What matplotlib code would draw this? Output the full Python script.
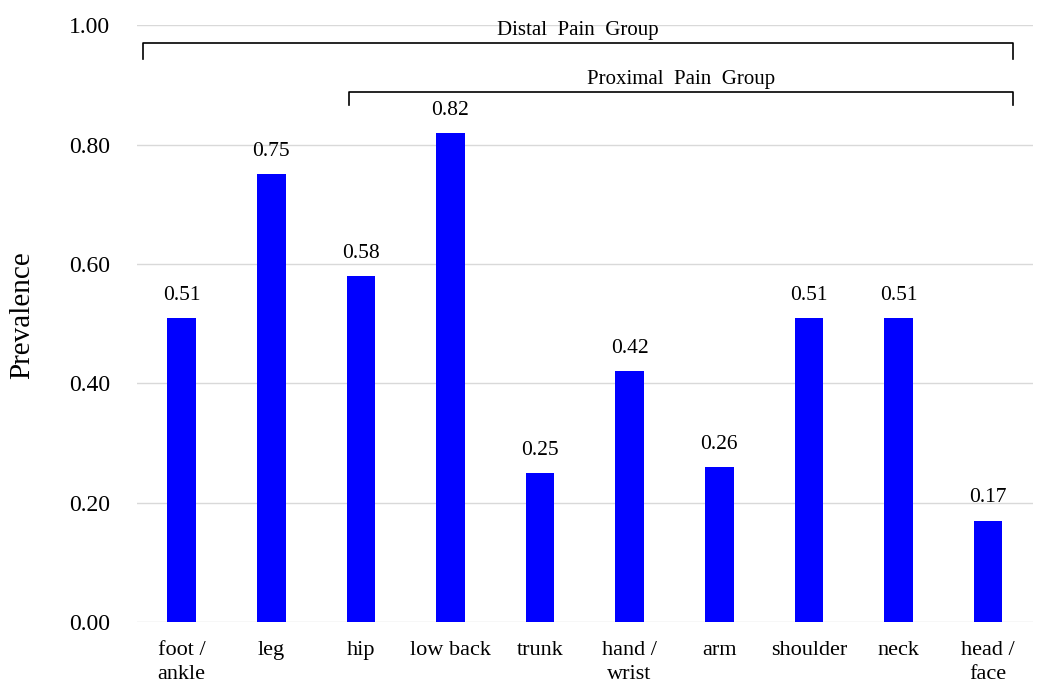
import matplotlib.pyplot as plt
import numpy as np

regions = ['foot /\nankle', 'leg', 'hip', 'low back', 'trunk', 'hand /\nwrist',
           'arm', 'shoulder', 'neck', 'head /\nface']
prevalence = [0.51, 0.75, 0.58, 0.82, 0.25, 0.42, 0.26, 0.51, 0.51, 0.17]

plt.rcParams['font.family'] = ['Liberation Serif', 'DejaVu Serif']

fig = plt.figure(figsize=(10.37, 6.84), dpi=100)
ax = fig.add_axes([0.132, 0.0906, 0.864, 0.8724])

x = np.arange(len(regions))
bars = ax.bar(x, prevalence, width=0.32, color='#0000ff', zorder=3)

for xi, v in zip(x, prevalence):
    ax.text(xi, v + 0.022, '%.2f' % v, ha='center', va='bottom', fontsize=15.5)

ax.set_xlim(-0.5, len(regions) - 0.5)
ax.set_ylim(0, 1.0)
ticks = np.arange(0, 1.01, 0.2)
ax.set_yticks(ticks)
ax.set_yticklabels(['%.2f' % t for t in ticks], fontsize=17)
ax.set_xticks(x)
ax.set_xticklabels(regions, fontsize=16, linespacing=1.3, va='top')
ax.tick_params(axis='x', length=0, pad=14)
ax.tick_params(axis='y', length=0, pad=19)
ax.set_ylabel('Prevalence', fontsize=21)
ax.yaxis.set_label_coords(-0.113, 0.515)

ax.grid(axis='y', color='#d9d9d9', linewidth=1, zorder=0)
for s in ax.spines.values():
    s.set_visible(False)

# group brackets
def bracket(x0, x1, y, drop, label, ty):
    ax.plot([x0, x0, x1, x1], [y - drop, y, y, y - drop], color='black',
            linewidth=1.2, clip_on=False, zorder=4)
    ax.text((x0 + x1) / 2, ty, label, ha='center', va='center', fontsize=15)

bracket(-0.43, 9.28, 0.970, 0.027, 'Distal  Pain  Group', 0.991)
bracket(1.87, 9.28, 0.888, 0.022, 'Proximal  Pain  Group', 0.910)

fig.savefig('out.png', dpi=100)
